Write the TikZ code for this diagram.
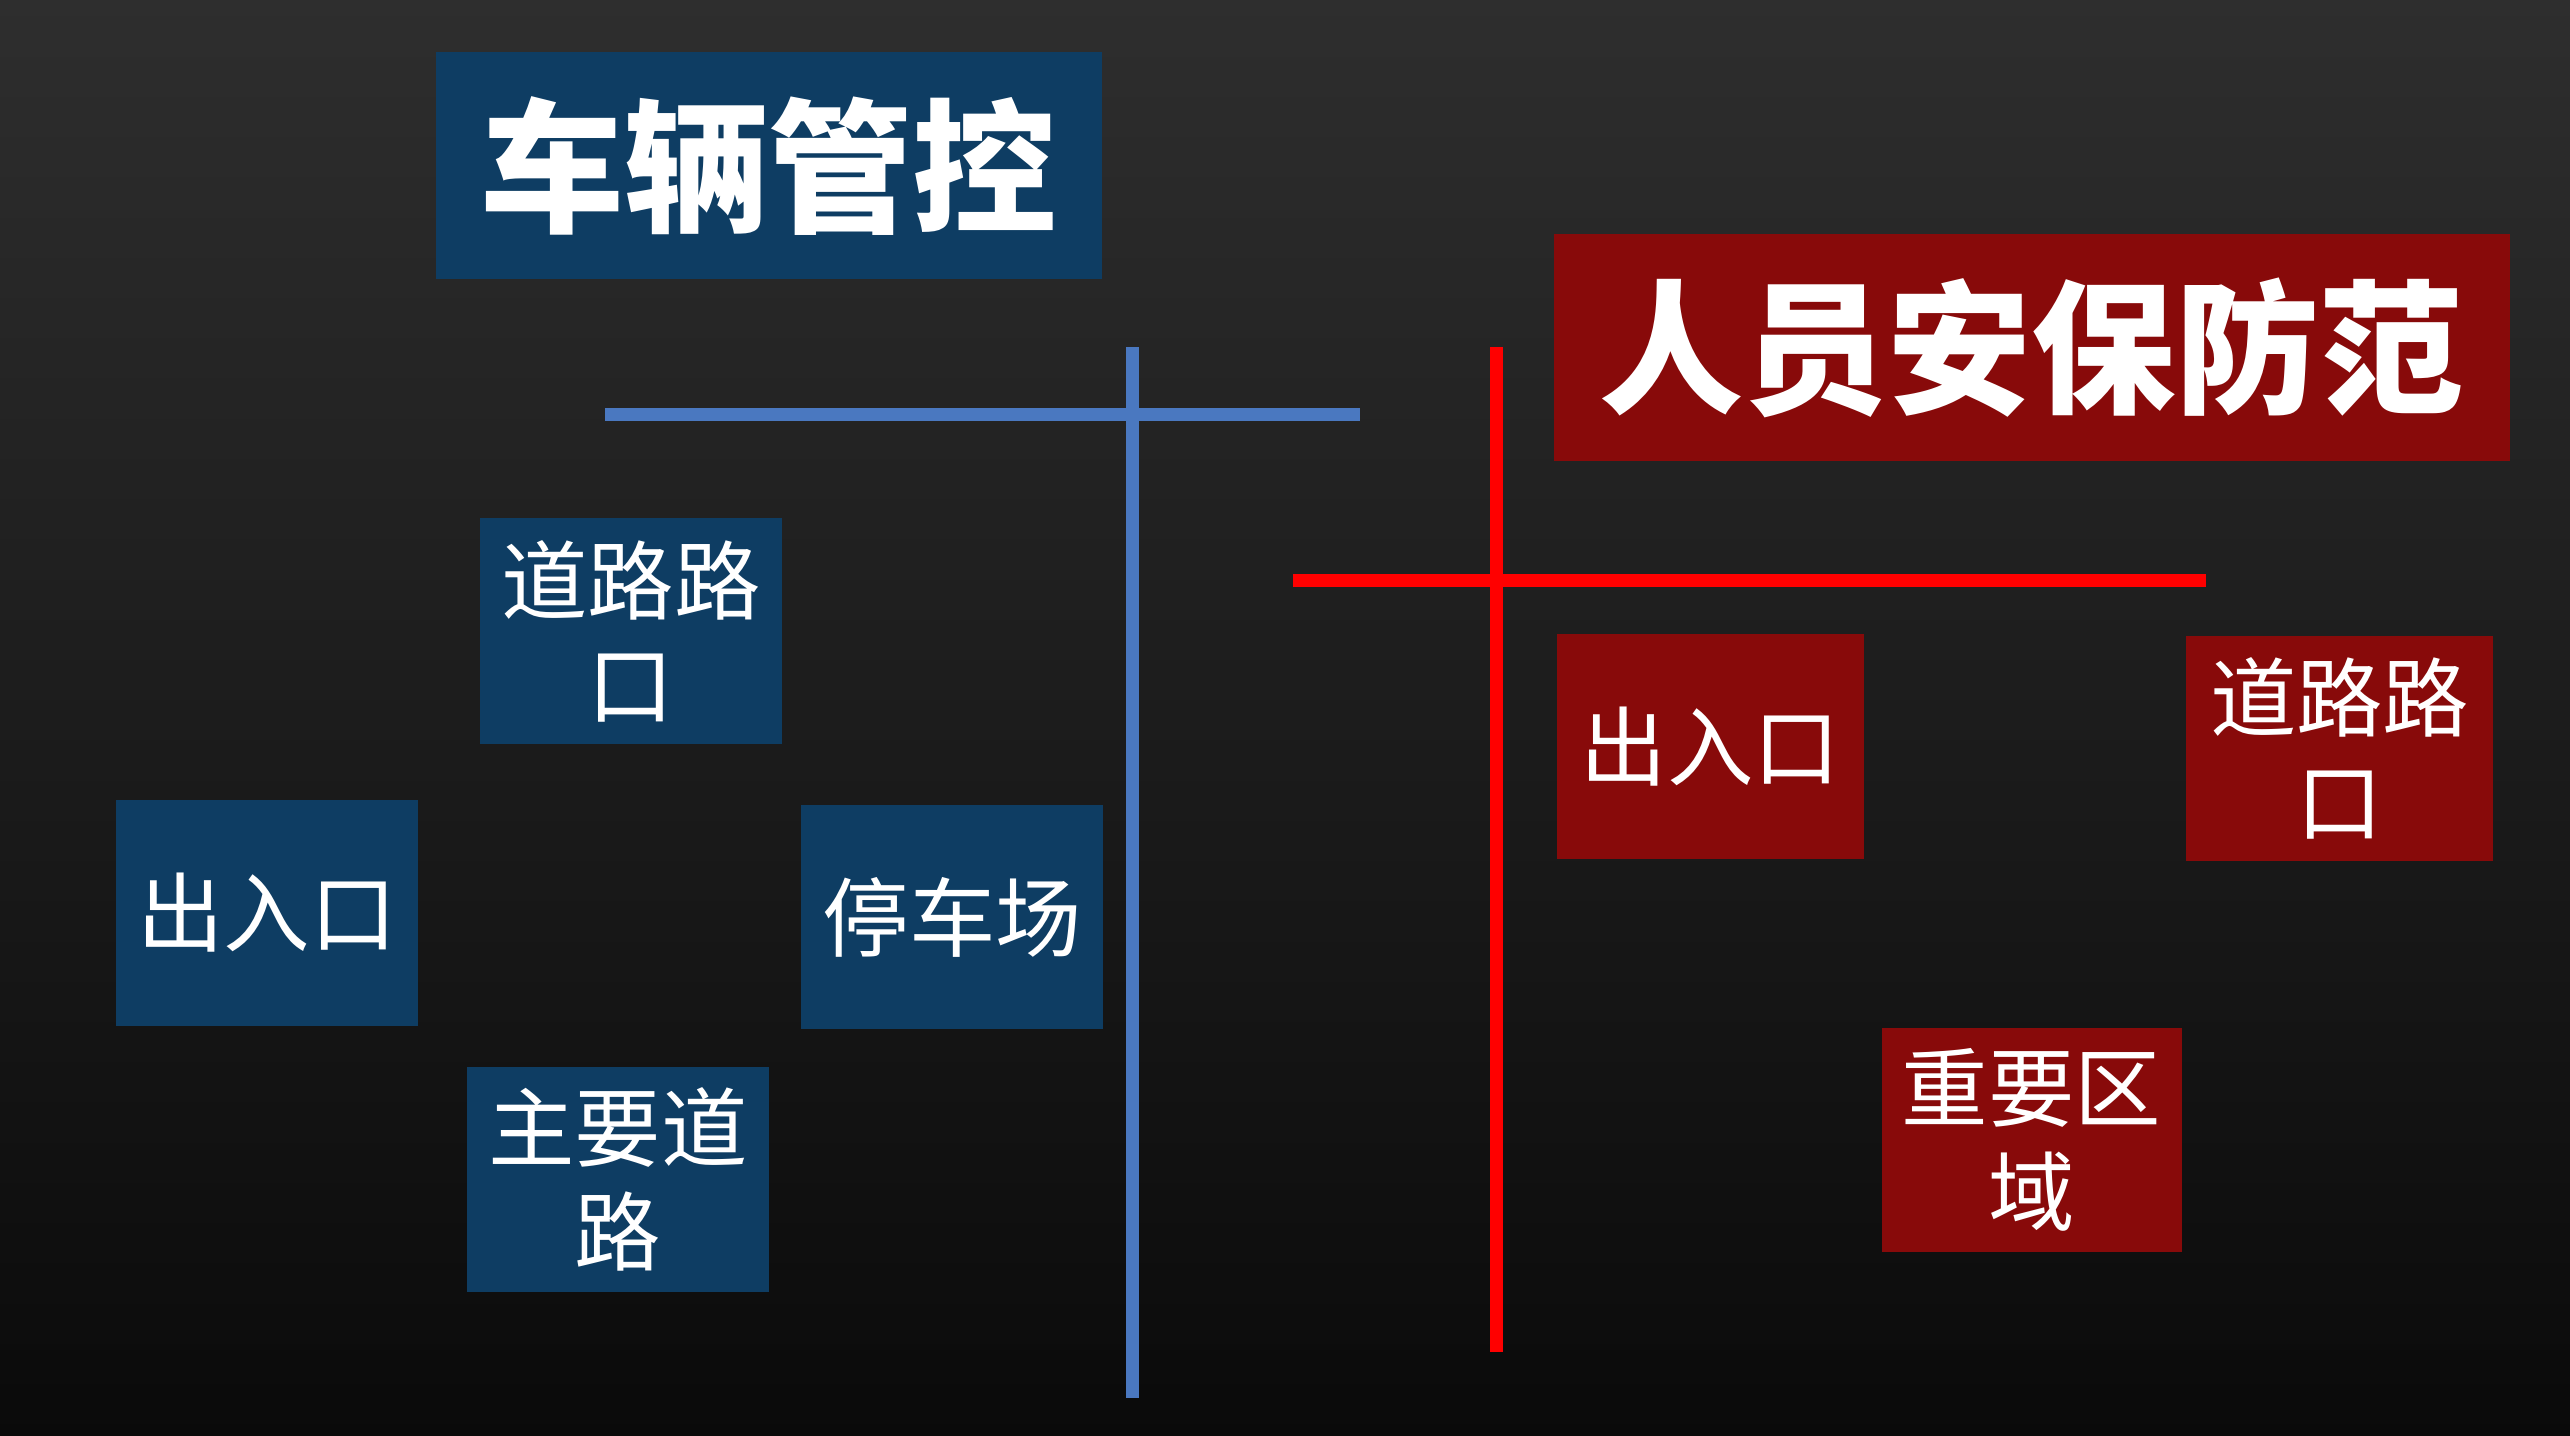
\documentclass[tikz,border=0pt]{standalone}
\usepackage{fontspec}
\newfontfamily\cjk{Noto Sans CJK SC}
\definecolor{bbox}{HTML}{0E3D63}
\definecolor{rbox}{HTML}{880A0A}
\definecolor{bline}{HTML}{4A78C0}
\begin{document}
\begin{tikzpicture}[x=0.01cm,y=-0.01cm,
  bx/.style={fill=bbox,text=white,align=center,inner sep=0pt},
  rx/.style={fill=rbox,text=white,align=center,inner sep=0pt},
  lbl/.style={font=\cjk\fontsize{15}{18}\selectfont},
  ttl/.style={font=\cjk\bfseries\fontsize{25}{30}\selectfont}]
\shade[top color=black!82,bottom color=black!96] (0,0) rectangle (1568,876);
\useasboundingbox (0,0) rectangle (1568,876);
% titles
\node[bx,ttl,minimum width=4.06cm,minimum height=1.38cm] (t1) at (469,101) {车辆管控};
\node[rx,ttl,minimum width=5.83cm,minimum height=1.38cm] (t2) at (1239.5,212) {人员安保防范};
% lines
\coordinate (bh1) at (369,253); \coordinate (bh2) at (830,253);
\coordinate (bv1) at (691,212); \coordinate (bv2) at (691,853);
\draw[bline,line width=2.2pt] (bh1) -- (bh2) (bv1) -- (bv2);
\coordinate (rv1) at (913,212); \coordinate (rv2) at (913,825);
\coordinate (rh1) at (789,354); \coordinate (rh2) at (1346,354);
\draw[red,line width=2.2pt] (rv1) -- (rv2) (rh1) -- (rh2);
% blue boxes
\node[bx,lbl,minimum width=1.84cm,minimum height=1.38cm] (b1) at (385,385) {道路路\\口};
\node[bx,lbl,minimum width=1.84cm,minimum height=1.38cm] (b2) at (163,557) {出入口};
\node[bx,lbl,minimum width=1.84cm,minimum height=1.37cm] (b3) at (581,559.5) {停车场};
\node[bx,lbl,minimum width=1.84cm,minimum height=1.37cm] (b4) at (377,719.5) {主要道\\路};
% red boxes
\node[rx,lbl,minimum width=1.87cm,minimum height=1.37cm] (r1) at (1043.5,455.5) {出入口};
\node[rx,lbl,minimum width=1.87cm,minimum height=1.37cm] (r2) at (1427.5,456.5) {道路路\\口};
\node[rx,lbl,minimum width=1.83cm,minimum height=1.37cm] (r3) at (1239.5,695.5) {重要区\\域};
\end{tikzpicture}
\end{document}
